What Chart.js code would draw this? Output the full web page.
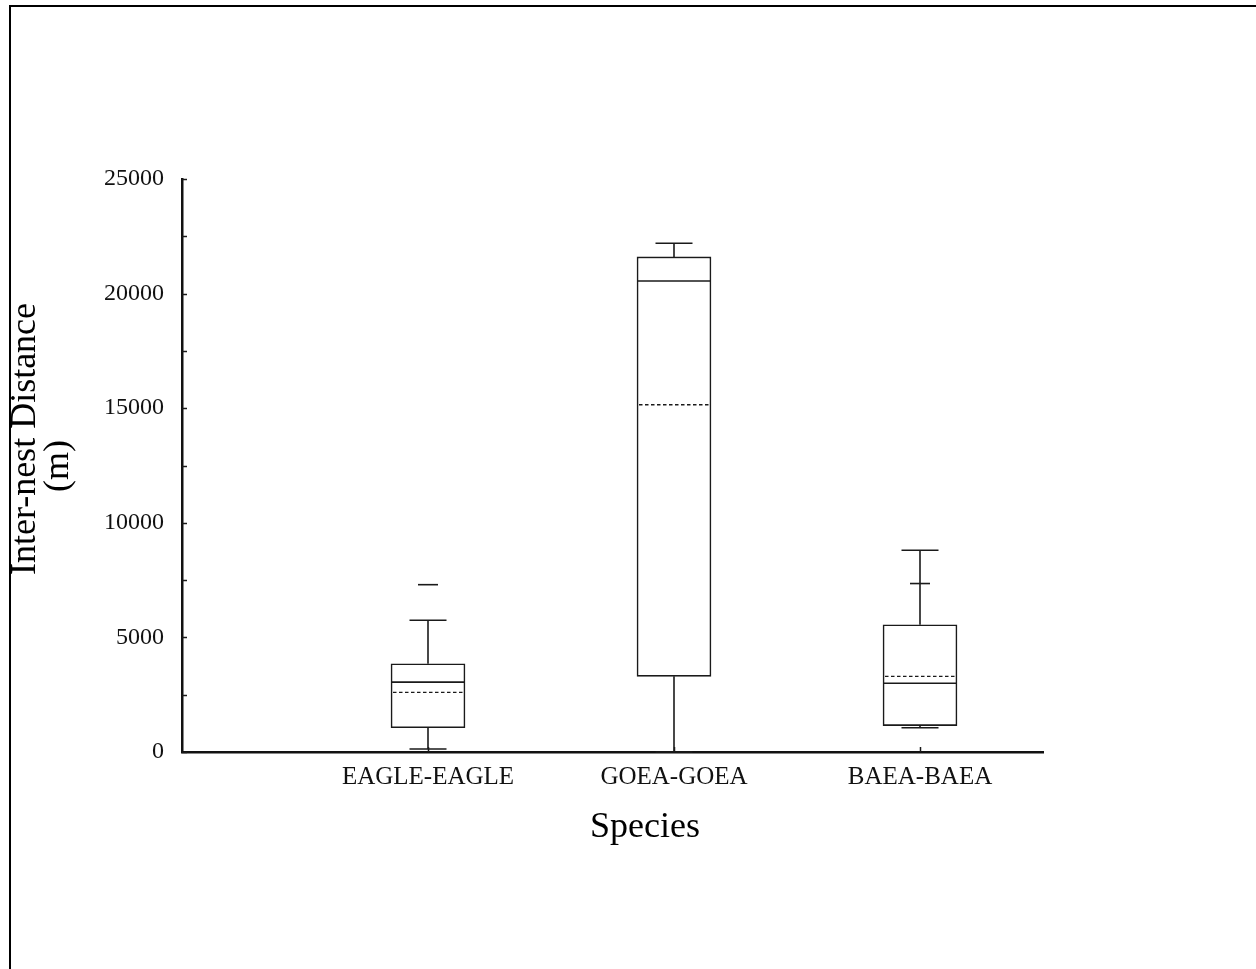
<!DOCTYPE html>
<html>
<head>
<meta charset="utf-8">
<title>Inter-nest Distance by Species</title>
<script src="https://cdn.jsdelivr.net/npm/chart.js@4.4.0/dist/chart.umd.min.js"></script>
<style>
  html, body { margin: 0; padding: 0; background: #fff; }
  #wrap { position: relative; width: 1256px; height: 969px; }
  #c { position: absolute; left: 0; top: 0; }
  #frame { position: absolute; left: 9px; top: 5px; right: 0; bottom: 0;
           border-top: 2px solid #000; border-left: 2px solid #000; pointer-events: none; }
</style>
</head>
<body>
<div id="wrap">
  <canvas id="c" width="1256" height="969"></canvas>
  <div id="frame"></div>
</div>
<script>
// Species pairs and their slot on the x scale
const categories = ['EAGLE-EAGLE', 'GOEA-GOEA', 'BAEA-BAEA'];
const positions = [1, 2, 3];

// Box statistics (m)
const q1 = [1060, 3300, 1150];
const q3 = [3850, 21600, 5550];
const medians = [3050, 20550, 3000];
const means = [2600, 15150, 3300];
const whiskerLow = [130, 0, 1060];
const whiskerHigh = [5750, 22200, 8800];
const outliers = [[7300], [], [7350]];

// Axis tick values
const yTicks = [0, 5000, 10000, 15000, 20000, 25000];
const yMinorStep = 2500;

const INK = '#1a1a1a';
const SERIF = '"Liberation Serif", "Times New Roman", serif';
const BOX_W = 74;

// Whiskers, medians, means, outlier dashes, inward tick marks and axis titles
const boxDetails = {
  id: 'boxDetails',
  afterDatasetsDraw(chart) {
    const { ctx, scales: { x, y }, chartArea } = chart;
    ctx.save();
    ctx.strokeStyle = INK;
    ctx.lineCap = 'butt';
    const hline = (x0, x1, yy) => { ctx.beginPath(); ctx.moveTo(x0, yy); ctx.lineTo(x1, yy); ctx.stroke(); };
    const vline = (xx, y0, y1) => { ctx.beginPath(); ctx.moveTo(xx, y0); ctx.lineTo(xx, y1); ctx.stroke(); };

    positions.forEach((p, i) => {
      const cx = x.getPixelForValue(p);
      const hb = BOX_W / 2;
      const hc = 18.5;
      ctx.setLineDash([]);
      ctx.lineWidth = 1.6;
      // whiskers
      vline(cx, y.getPixelForValue(q3[i]), y.getPixelForValue(whiskerHigh[i]));
      vline(cx, y.getPixelForValue(q1[i]), y.getPixelForValue(whiskerLow[i]));
      hline(cx - hc, cx + hc, y.getPixelForValue(whiskerHigh[i]));
      hline(cx - hc, cx + hc, y.getPixelForValue(whiskerLow[i]));
      // median
      hline(cx - hb, cx + hb, y.getPixelForValue(medians[i]));
      // outliers
      outliers[i].forEach(v => hline(cx - 10, cx + 10, y.getPixelForValue(v)));
      // mean (dotted)
      ctx.lineWidth = 1.3;
      ctx.setLineDash([3.5, 2.5]);
      hline(cx - hb + 2, cx + hb - 2, y.getPixelForValue(means[i]));
    });

    // tick marks pointing into the plot
    ctx.setLineDash([]);
    ctx.lineWidth = 1.5;
    for (let v = 0; v <= 25000; v += yMinorStep) {
      const yy = Math.round(y.getPixelForValue(v)) + 0.5;
      hline(chartArea.left, chartArea.left + 5, yy);
    }
    positions.forEach(p => {
      const xx = Math.round(x.getPixelForValue(p)) + 0.5;
      vline(xx, chartArea.bottom, chartArea.bottom - 5);
    });

    // axis titles
    ctx.fillStyle = '#000';
    ctx.font = '36px ' + SERIF;
    ctx.textAlign = 'center';
    ctx.textBaseline = 'alphabetic';
    ctx.fillText('Species', 645, 837);

    ctx.save();
    ctx.translate(35, 439);
    ctx.rotate(-Math.PI / 2);
    ctx.fillText('Inter-nest Distance', 0, 0);
    ctx.restore();
    ctx.save();
    ctx.translate(68, 466);
    ctx.rotate(-Math.PI / 2);
    ctx.fillText('(m)', 0, 0);
    ctx.restore();

    ctx.restore();
  }
};

new Chart(document.getElementById('c'), {
  type: 'bar',
  data: {
    datasets: [{
      data: positions.map((p, i) => ({ x: p, y: [q1[i], q3[i]] })),
      backgroundColor: '#ffffff',
      borderColor: INK,
      borderWidth: 1.6,
      borderSkipped: false,
      barThickness: BOX_W
    }]
  },
  options: {
    responsive: false,
    animation: false,
    devicePixelRatio: 1,
    layout: { padding: { top: 179, right: 213, left: 0, bottom: 0 } },
    plugins: { legend: { display: false }, tooltip: { enabled: false }, title: { display: false } },
    scales: {
      x: {
        type: 'linear',
        offset: false,
        min: 0,
        max: 3.5,
        grid: { display: false, offset: false },
        border: { display: true, color: '#111', width: 2.5 },
        afterBuildTicks: s => { s.ticks = positions.map(v => ({ value: v })); },
        afterFit: s => { s.height = 217; },
        ticks: {
          autoSkip: false,
          maxRotation: 0,
          padding: 2,
          color: '#111',
          font: { family: SERIF, size: 25 },
          callback: v => { const k = positions.indexOf(v); return k >= 0 ? categories[k] : ''; }
        }
      },
      y: {
        type: 'linear',
        min: 0,
        max: 25000,
        grid: { display: false },
        border: { display: true, color: '#111', width: 2.5 },
        afterBuildTicks: s => { s.ticks = yTicks.map(v => ({ value: v })); },
        afterFit: s => { s.width = 182; },
        ticks: {
          padding: 10,
          color: '#111',
          font: { family: SERIF, size: 24 },
          callback: v => String(v)
        }
      }
    }
  },
  plugins: [boxDetails]
});
</script>
</body>
</html>
